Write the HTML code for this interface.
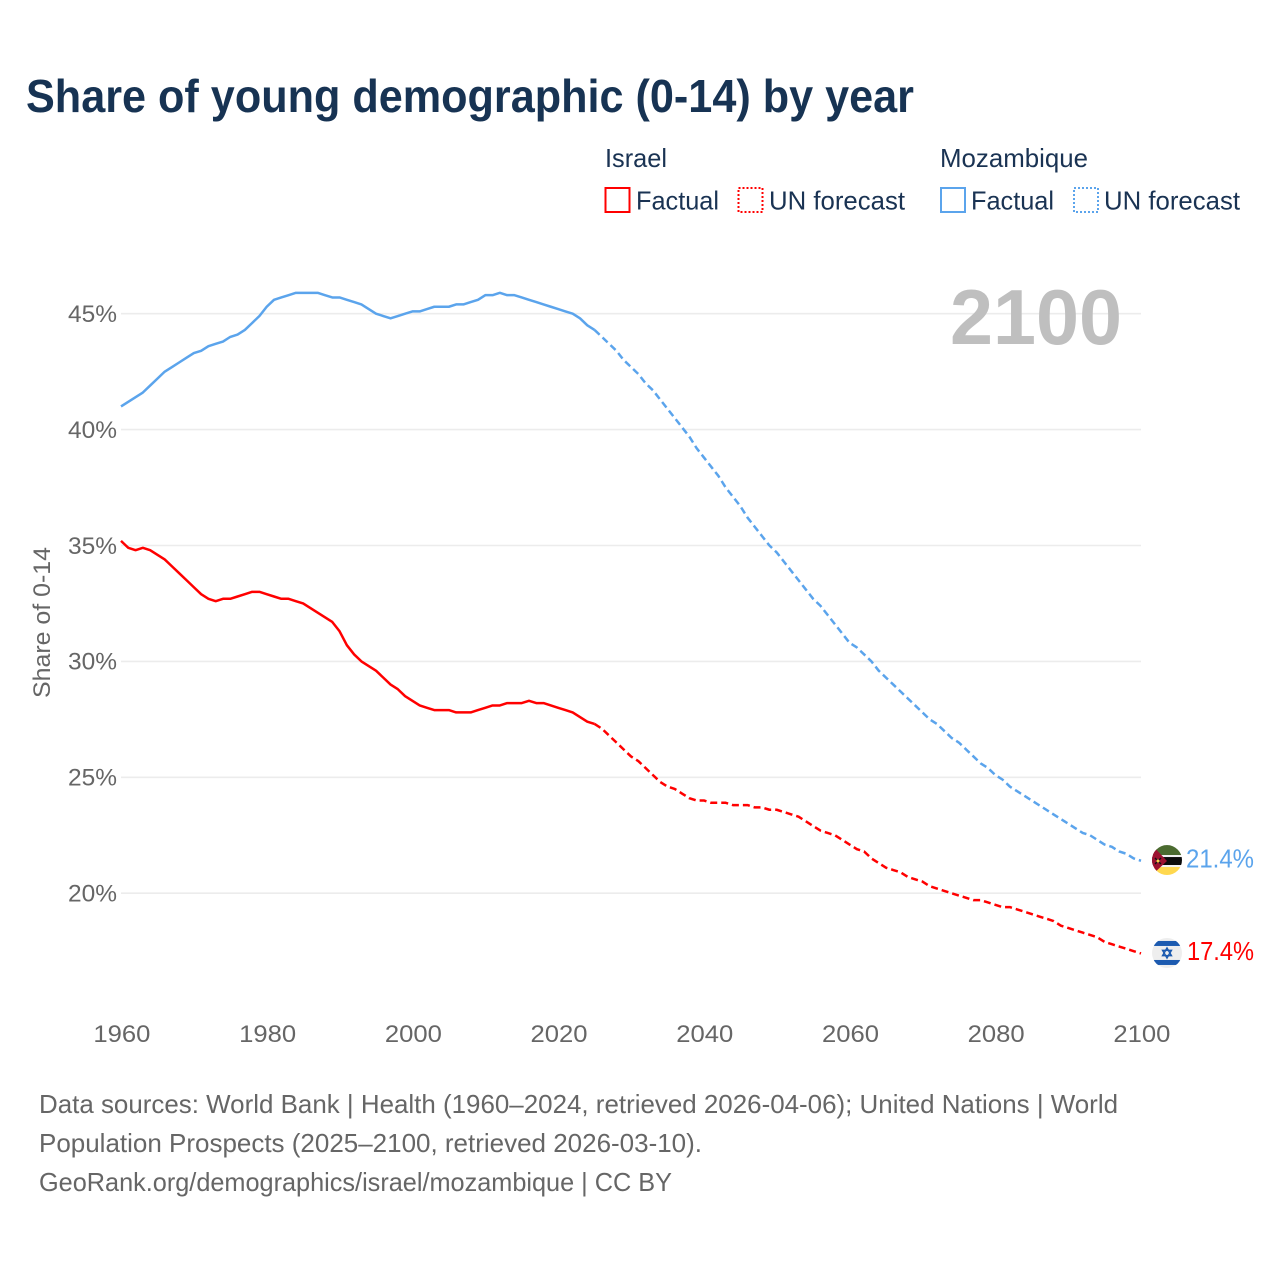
<!DOCTYPE html>
<html lang="en">
<head>
<meta charset="utf-8">
<title>Share of young demographic (0-14) by year</title>
<style>
html,body{margin:0;padding:0;background:#fff}
svg{display:block;font-family:"Liberation Sans",sans-serif}
</style>
</head>
<body>
<svg id="chart" xmlns="http://www.w3.org/2000/svg" width="1280" height="1280" viewBox="0 0 1280 1280">
<rect width="1280" height="1280" fill="#fff"/>
<text x="26" y="112" font-size="46" font-weight="700" fill="#173353" textLength="888" lengthAdjust="spacingAndGlyphs">Share of young demographic (0-14) by year</text>

<g font-size="26" fill="#1a3353">
<text x="605" y="167" textLength="62" lengthAdjust="spacingAndGlyphs">Israel</text>
<rect x="605.5" y="188" width="24" height="24" fill="none" stroke="#ff0000" stroke-width="2"/>
<text x="636" y="209.5" textLength="83" lengthAdjust="spacingAndGlyphs">Factual</text>
<rect x="738.5" y="188" width="24" height="24" fill="none" stroke="#ff0000" stroke-width="2" stroke-dasharray="2 2"/>
<text x="769" y="209.5" textLength="136" lengthAdjust="spacingAndGlyphs">UN forecast</text>
<text x="940" y="167" textLength="148" lengthAdjust="spacingAndGlyphs">Mozambique</text>
<rect x="941" y="188" width="24" height="24" fill="none" stroke="#5ba4ec" stroke-width="2"/>
<text x="971" y="209.5" textLength="83" lengthAdjust="spacingAndGlyphs">Factual</text>
<rect x="1074" y="188" width="24" height="24" fill="none" stroke="#5ba4ec" stroke-width="2" stroke-dasharray="2 2"/>
<text x="1104" y="209.5" textLength="136" lengthAdjust="spacingAndGlyphs">UN forecast</text>
</g>

<g id="grid"></g>
<text x="1122" y="344" text-anchor="end" font-size="78" font-weight="700" fill="#bfbfbf" textLength="172" lengthAdjust="spacingAndGlyphs">2100</text>
<g id="yticks"></g>
<g id="xticks"></g>
<text transform="translate(50 622.5) rotate(-90)" text-anchor="middle" font-size="24" fill="#666" textLength="151" lengthAdjust="spacingAndGlyphs">Share of 0-14</text>
<g id="series"></g>

<defs>
<clipPath id="flag-clip"><circle cx="0" cy="0" r="15"/></clipPath>
</defs>
<g id="flag-mz">
<g clip-path="url(#flag-clip)">
<rect x="-15" y="-15" width="30" height="10" fill="#4b6b30"/>
<rect x="-15" y="-5" width="30" height="2.5" fill="#f2f2f2"/>
<rect x="-15" y="-3" width="30" height="8" fill="#0c0c0c"/>
<rect x="-15" y="5" width="30" height="2.5" fill="#f2f2f2"/>
<rect x="-15" y="7" width="30" height="8" fill="#ffd84f"/>
<polygon points="-15,-15 0,1 -15,15" fill="#9c1230"/>
<path d="M-12 -2 L-6 4 M-6 -2 L-12 4" stroke="#111" stroke-width="1.4"/>
<circle cx="-9" cy="1" r="1.5" fill="#f5d24b"/>
</g>
</g>
<g id="flag-il">
<g clip-path="url(#flag-clip)">
<rect x="-15" y="-15" width="30" height="30" fill="#eeeeee"/>
<rect x="-15" y="-12" width="30" height="5" fill="#1d5bb0"/>
<rect x="-15" y="7" width="30" height="5" fill="#1d5bb0"/>
<polygon points="0,-5 4.4,2.6 -4.4,2.6" fill="none" stroke="#1d5bb0" stroke-width="1.5"/>
<polygon points="0,5 4.4,-2.6 -4.4,-2.6" fill="none" stroke="#1d5bb0" stroke-width="1.5"/>
</g>
</g>
<g id="endlabels"></g>

<g font-size="26" fill="#666">
<text x="39" y="1113" textLength="1079" lengthAdjust="spacingAndGlyphs">Data sources: World Bank | Health (1960–2024, retrieved 2026-04-06); United Nations | World</text>
<text x="39" y="1152" textLength="663" lengthAdjust="spacingAndGlyphs">Population Prospects (2025–2100, retrieved 2026-03-10).</text>
<text x="39" y="1191" textLength="633" lengthAdjust="spacingAndGlyphs">GeoRank.org/demographics/israel/mozambique | CC BY</text>
</g>
</svg>

<script>
const yTickValues = [20, 25, 30, 35, 40, 45];
const xTickValues = [1960, 1980, 2000, 2020, 2040, 2060, 2080, 2100];
const factualStartYear = 1960;
const forecastStartYear = 2025;
const israelFactual = [
35.2,34.9,34.8,34.9,34.8,34.6,34.4,34.1,33.8,33.5,
33.2,32.9,32.7,32.6,32.7,32.7,32.8,32.9,33.0,33.0,
32.9,32.8,32.7,32.7,32.6,32.5,32.3,32.1,31.9,31.7,
31.3,30.7,30.3,30.0,29.8,29.6,29.3,29.0,28.8,28.5,
28.3,28.1,28.0,27.9,27.9,27.9,27.8,27.8,27.8,27.9,
28.0,28.1,28.1,28.2,28.2,28.2,28.3,28.2,28.2,28.1,
28.0,27.9,27.8,27.6,27.4,27.3];
const israelForecast = [
27.3,27.1,26.8,26.5,26.2,
25.9,25.7,25.4,25.1,24.8,24.6,24.5,24.3,24.1,24.0,
24.0,23.9,23.9,23.9,23.8,23.8,23.8,23.7,23.7,23.6,
23.6,23.5,23.4,23.3,23.1,22.9,22.7,22.6,22.5,22.3,
22.1,21.9,21.8,21.5,21.3,21.1,21.0,20.9,20.7,20.6,
20.5,20.3,20.2,20.1,20.0,19.9,19.8,19.7,19.7,19.6,
19.5,19.4,19.4,19.3,19.2,19.1,19.0,18.9,18.8,18.6,
18.5,18.4,18.3,18.2,18.1,17.9,17.8,17.7,17.6,17.5,
17.4];
const mozambiqueFactual = [
41.0,41.2,41.4,41.6,41.9,42.2,42.5,42.7,42.9,43.1,
43.3,43.4,43.6,43.7,43.8,44.0,44.1,44.3,44.6,44.9,
45.3,45.6,45.7,45.8,45.9,45.9,45.9,45.9,45.8,45.7,
45.7,45.6,45.5,45.4,45.2,45.0,44.9,44.8,44.9,45.0,
45.1,45.1,45.2,45.3,45.3,45.3,45.4,45.4,45.5,45.6,
45.8,45.8,45.9,45.8,45.8,45.7,45.6,45.5,45.4,45.3,
45.2,45.1,45.0,44.8,44.5,44.3];
const mozambiqueForecast = [
44.3,44.0,43.7,43.4,43.0,
42.7,42.4,42.0,41.7,41.3,40.9,40.5,40.1,39.7,39.2,
38.8,38.4,38.0,37.5,37.1,36.7,36.2,35.8,35.4,35.0,
34.7,34.3,33.9,33.5,33.1,32.7,32.4,32.0,31.6,31.2,
30.8,30.6,30.3,30.0,29.6,29.3,29.0,28.7,28.4,28.1,
27.8,27.5,27.3,27.0,26.7,26.5,26.2,25.9,25.6,25.4,
25.1,24.9,24.6,24.4,24.2,24.0,23.8,23.6,23.4,23.2,
23.0,22.8,22.6,22.5,22.3,22.1,22.0,21.8,21.7,21.5,
21.4];

const NS = 'http://www.w3.org/2000/svg';
function xScale(year) { return 121 + (year - 1960) * (1020 / 140); }
function yScale(v) { return 893.2 - (v - 20) * 23.18; }
function pathFrom(values, startYear) {
  return values.map(function (v, i) {
    return (i ? 'L' : 'M') + xScale(startYear + i).toFixed(2) + ' ' + yScale(v).toFixed(2);
  }).join(' ');
}
function node(tag, attrs, text) {
  const el = document.createElementNS(NS, tag);
  Object.keys(attrs).forEach(function (k) { el.setAttribute(k, attrs[k]); });
  if (text !== undefined) el.textContent = text;
  return el;
}

const gridG = document.getElementById('grid');
const yTickG = document.getElementById('yticks');
const xTickG = document.getElementById('xticks');
const seriesG = document.getElementById('series');
const endG = document.getElementById('endlabels');

yTickValues.forEach(function (v) {
  const line = node('line', { x1: 121, x2: 1141, y1: yScale(v), y2: yScale(v), stroke: '#ececec', 'stroke-width': 1.6 });
  
  
  gridG.appendChild(line);
  const label = node('text', { x: 117, y: yScale(v) + 8.3, 'text-anchor': 'end', 'font-size': 24, fill: '#666', textLength: 49, lengthAdjust: 'spacingAndGlyphs' }, v + '%');
  
  
  yTickG.appendChild(label);
});

xTickValues.forEach(function (year) {
  const label = node('text', { x: xScale(year) + 0.9, y: 1042, 'text-anchor': 'middle', 'font-size': 24, fill: '#666', textLength: 57, lengthAdjust: 'spacingAndGlyphs' }, String(year));
  
  
  xTickG.appendChild(label);
});

function lineAttrs(d, color, dash) {
  const a = { d: d, fill: 'none', stroke: color, 'stroke-width': 2.5, 'stroke-linejoin': 'round' };
  if (dash) a['stroke-dasharray'] = '7 4';
  return a;
}

const mzFactualLine = node('path', lineAttrs(pathFrom(mozambiqueFactual, factualStartYear), '#5ba4ec', false));


seriesG.appendChild(mzFactualLine);

const mzForecastLine = node('path', lineAttrs(pathFrom(mozambiqueForecast, forecastStartYear), '#5ba4ec', true));


seriesG.appendChild(mzForecastLine);

const ilFactualLine = node('path', lineAttrs(pathFrom(israelFactual, factualStartYear), '#ff0000', false));


seriesG.appendChild(ilFactualLine);

const ilForecastLine = node('path', lineAttrs(pathFrom(israelForecast, forecastStartYear), '#ff0000', true));


seriesG.appendChild(ilForecastLine);

const mzLast = mozambiqueForecast[mozambiqueForecast.length - 1];
const ilLast = israelForecast[israelForecast.length - 1];
document.getElementById('flag-mz').setAttribute('transform', 'translate(1167 ' + (yScale(mzLast) - 0.7).toFixed(2) + ')');
document.getElementById('flag-il').setAttribute('transform', 'translate(1167 ' + (yScale(ilLast) - 0.5).toFixed(2) + ')');

const mzLabel = node('text', { x: 1186, y: yScale(mzLast) + 6.6, 'font-size': 26, fill: '#5ba4ec', textLength: 68, lengthAdjust: 'spacingAndGlyphs' }, mzLast.toFixed(1) + '%');


endG.appendChild(mzLabel);

const ilLabel = node('text', { x: 1187, y: yScale(ilLast) + 6.6, 'font-size': 26, fill: '#ff0000', textLength: 67, lengthAdjust: 'spacingAndGlyphs' }, ilLast.toFixed(1) + '%');


endG.appendChild(ilLabel);
</script>
</body>
</html>
